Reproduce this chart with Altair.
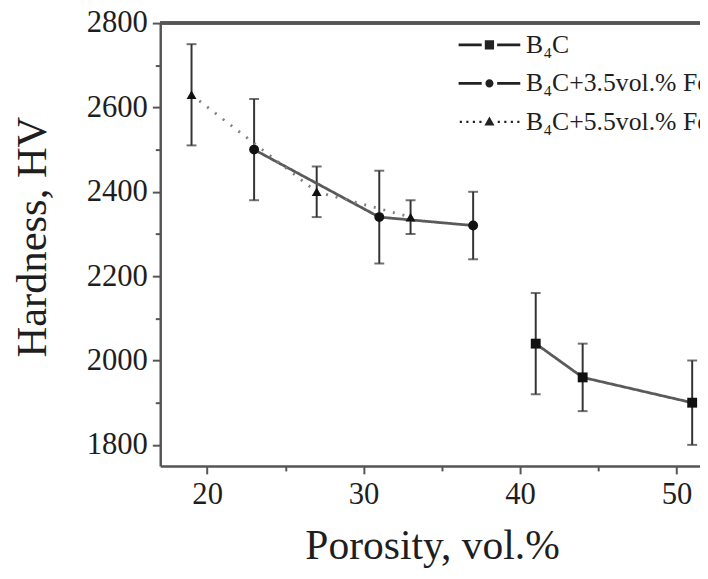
import altair as alt
import pandas as pd

# ---- data ----
series_names = ["B₄C", "B₄C+3.5vol.% Fe", "B₄C+5.5vol.% Fe"]

b4c_porosity = [41, 44, 51]
b4c_hardness = [2040, 1960, 1900]
b4c_error = [120, 80, 100]

fe35_porosity = [23, 31, 37]
fe35_hardness = [2500, 2340, 2320]
fe35_error = [120, 110, 80]

fe55_porosity = [19, 27, 33]
fe55_hardness = [2630, 2400, 2340]
fe55_error = [120, 60, 40]

x_ticks = [20, 25, 30, 35, 40, 45, 50]
y_ticks = [1800, 1900, 2000, 2100, 2200, 2300, 2400, 2500, 2600, 2700, 2800]
x_domain = [17, 51.5]
y_domain = [1750, 2800]

marker_shapes = ["square", "circle", "triangle-up"]
line_dashes = [[1, 0], [1, 0], [2, 8]]
line_colors = ["#5a5a5a", "#5a5a5a", "#808080"]


def seg(a, b, h=0.22):
    return f"M{a},{-h}H{b}V{h}H{a}Z"


def dots(starts, w=0.36):
    return "".join(seg(s, round(s + w, 2), 0.18) for s in starts)


legend_symbols = [
    seg(-5.2, -1.3) + seg(1.3, 5.2) + "M-0.78,-0.78H0.78V0.78H-0.78Z",
    seg(-5.2, -1.3) + seg(1.3, 5.2)
    + "M-0.68,0A0.68,0.68 0 1,0 0.68,0A0.68,0.68 0 1,0 -0.68,0Z",
    dots([-5.0, -3.9, -2.8, -1.7, 1.4, 2.5, 3.6, 4.7]) + "M0,-0.9L0.85,0.62H-0.85Z",
]

rows = []
for name, xs, ys, es in [
    (series_names[0], b4c_porosity, b4c_hardness, b4c_error),
    (series_names[1], fe35_porosity, fe35_hardness, fe35_error),
    (series_names[2], fe55_porosity, fe55_hardness, fe55_error),
]:
    for x, y, e in zip(xs, ys, es):
        rows.append({"series": name, "porosity": x, "hardness": y, "err": e})
df = pd.DataFrame(rows)

FONT = "Liberation Serif"
TEXT = "#1e1e1e"
AXIS = "#555555"

x_enc = alt.X(
    "porosity:Q",
    scale=alt.Scale(domain=x_domain, nice=False, zero=False),
    axis=alt.Axis(
        title="Porosity, vol.%",
        values=x_ticks,
        labelExpr="datum.value % 10 === 0 ? datum.label : ''",
        tickSize={"condition": {"test": "datum.value % 10 === 0", "value": 8}, "value": 5},
        titleY=94,
        titleX=275,
        titleBaseline="alphabetic",
        titleFontSize=42,
        labelPadding=6,
    ),
)
y_enc = alt.Y(
    "hardness:Q",
    scale=alt.Scale(domain=y_domain, nice=False, zero=False),
    axis=alt.Axis(
        title="Hardness, HV",
        values=y_ticks,
        labelExpr="datum.value % 200 === 0 ? datum.label : ''",
        tickSize={"condition": {"test": "datum.value % 200 === 0", "value": 8}, "value": 5},
        format="d",
        titleX=-116,
        titleY=216,
        titleBaseline="alphabetic",
        titleFontSize=43,
        labelPadding=5,
    ),
)

base = alt.Chart(df).transform_calculate(
    lo="datum.hardness - datum.err", hi="datum.hardness + datum.err"
)

frame_top = alt.Chart(df).mark_rule(color=AXIS, strokeWidth=2.5).encode(y=alt.value(0))

err_rules = base.mark_rule(color="#333333", strokeWidth=2).encode(
    x=x_enc, y=alt.Y("lo:Q"), y2="hi:Q"
)
cap_lo = base.mark_tick(orient="horizontal", color="#333333", size=10, thickness=2).encode(
    x=x_enc, y="lo:Q"
)
cap_hi = base.mark_tick(orient="horizontal", color="#333333", size=10, thickness=2).encode(
    x=x_enc, y="hi:Q"
)

lines = base.mark_line(strokeWidth=2.8).encode(
    x=x_enc,
    y=y_enc,
    color=alt.Color(
        "series:N",
        scale=alt.Scale(domain=series_names, range=line_colors),
        legend=None,
    ),
    strokeDash=alt.StrokeDash(
        "series:N",
        scale=alt.Scale(domain=series_names, range=line_dashes),
        legend=None,
    ),
)

points = base.mark_point(filled=True, color="#111111", size=100, opacity=1).encode(
    x=x_enc,
    y=y_enc,
    shape=alt.Shape(
        "series:N",
        scale=alt.Scale(domain=series_names, range=marker_shapes),
        legend=None,
    ),
)

legend_layer = base.transform_filter("false").mark_point(
    filled=True, color="#222222"
).encode(
    x=x_enc,
    y=y_enc,
    shape=alt.Shape(
        "series:N",
        scale=alt.Scale(domain=series_names, range=legend_symbols),
        legend=alt.Legend(
            title=None,
            orient="none",
            legendX=320,
            legendY=9,
            symbolSize=144,
            symbolFillColor="#222222",
            symbolOpacity=1,
            labelFont=FONT,
            labelFontSize=26,
            labelColor=TEXT,
            labelOffset=24,
            labelLimit=600,
            rowPadding=13,
            padding=0,
        ),
    ),
)

chart = (
    alt.layer(frame_top, err_rules, cap_lo, cap_hi, lines, points, legend_layer)
    .resolve_scale(shape="independent", color="independent")
    .resolve_legend(shape="independent")
    .properties(
        width=546,
        height=448,
        autosize=alt.AutoSizeParams(type="none"),
        padding={"left": 154, "top": 12, "right": 0, "bottom": 103},
        background="white",
    )
    .configure_view(strokeWidth=0)
    .configure_axis(
        grid=False,
        domainColor=AXIS,
        domainWidth=2.5,
        tickColor=AXIS,
        tickWidth=2,
        labelFont=FONT,
        labelFontSize=31,
        labelColor=TEXT,
        labelOverlap=False,
        titleFont=FONT,
        titleFontWeight="normal",
        titleColor=TEXT,
    )
)

chart.save("out.html", embed_options={"renderer": "svg", "actions": False})
